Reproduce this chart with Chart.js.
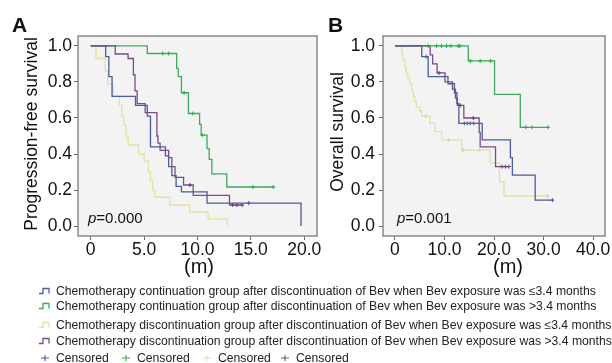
<!DOCTYPE html>
<html>
<head>
<meta charset="utf-8">
<script src="https://cdn.jsdelivr.net/npm/chart.js@4.4.1/dist/chart.umd.min.js"></script>
<style>
  body { margin: 0; background: #fff; width: 612px; height: 363px; overflow: hidden; position: relative;
         font-family: "Liberation Sans", Arial, sans-serif; }
  #chartA { position: absolute; left: 0; top: 0; }
  #chartB { position: absolute; left: 322px; top: 0; }
  .leg { position: absolute; left: 39px; font-size: 12.2px; line-height: 14px; color: #222; white-space: nowrap; }
  .leg svg { vertical-align: middle; margin-right: 5px; position: relative; top: -1px; }
  .cens { display: inline-block; position: absolute; top: 0; }
</style>
</head>
<body>
<canvas id="chartA" width="322" height="285"></canvas>
<canvas id="chartB" width="290" height="285"></canvas>

<div class="leg" style="top:284px"><svg width="12" height="8"><path d="M0,6.5H4V1.5H10V6.5" fill="none" stroke="#4d5c9c" stroke-width="1.3"/></svg><span>Chemotherapy continuation group after discontinuation of Bev when Bev exposure was ≤3.4 months</span></div>
<div class="leg" style="top:299px"><svg width="12" height="8"><path d="M0,6.5H4V1.5H10V6.5" fill="none" stroke="#3faa5c" stroke-width="1.3"/></svg><span>Chemotherapy continuation group after discontinuation of Bev when Bev exposure was &gt;3.4 months</span></div>
<div class="leg" style="top:318px"><svg width="12" height="8"><path d="M0,6.5H4V1.5H10V6.5" fill="none" stroke="#e4e0a4" stroke-width="1.3"/></svg><span>Chemotherapy discontinuation group after discontinuation of Bev when Bev exposure was ≤3.4 months</span></div>
<div class="leg" style="top:334px"><svg width="12" height="8"><path d="M0,6.5H4V1.5H10V6.5" fill="none" stroke="#7a4e88" stroke-width="1.3"/></svg><span>Chemotherapy discontinuation group after discontinuation of Bev when Bev exposure was &gt;3.4 months</span></div>
<div class="leg" style="top:351px;left:0;width:612px;height:14px">
  <span class="cens" style="left:39px"><svg width="12" height="8"><path d="M2,4H10M6,1V7" stroke="#4d5c9c" stroke-width="1.1"/></svg>Censored</span>
  <span class="cens" style="left:120px"><svg width="12" height="8"><path d="M2,4H10M6,1V7" stroke="#2db04a" stroke-width="1.1"/></svg>Censored</span>
  <span class="cens" style="left:201px"><svg width="12" height="8"><path d="M2,4H10M6,1V7" stroke="#e4e0a4" stroke-width="1.1"/></svg>Censored</span>
  <span class="cens" style="left:279px"><svg width="12" height="8"><path d="M2,4H10M6,1V7" stroke="#7a4e88" stroke-width="1.1"/></svg>Censored</span>
</div>

<script>
// axis ticks
const pfsTicksX = [0, 5, 10, 15, 20];
const pfsTickLabels = ['0', '5.0', '10.0', '15.0', '20.0'];
const osTicksX = [0, 10, 20, 30, 40];
const osTickLabels = ['0', '10.0', '20.0', '30.0', '40.0'];
const survTicks = [0, 0.2, 0.4, 0.6, 0.8, 1.0];
const survTickLabels = ['0.0', '0.2', '0.4', '0.6', '0.8', '1.0'];

// group order: cont <=3.4, cont >3.4, discont <=3.4, discont >3.4
const lineColors = ['#4d5c9c', '#3faa5c', '#e4e0a4', '#7a4e88'];
const censorColors = ['#4d5c9c', '#22b040', '#dcd890', '#6e3f80'];

// A: progression-free survival (time of step, survival after step, censored times)
const pfsBlueT = [0, 1.4, 1.7, 2.0, 4.2, 5.3, 5.6, 7.0, 7.3, 7.6, 8.0, 8.5, 10.9, 19.7];
const pfsBlueS = [1, 0.94, 0.83, 0.72, 0.67, 0.61, 0.44, 0.39, 0.33, 0.28, 0.22, 0.19, 0.128, 0];
const pfsBlueCens = [14.8];

const pfsGreenT = [0, 5.3, 8.05, 8.2, 8.5, 9.15, 10.2, 10.35, 10.9, 11.1, 11.35, 12.75, 17.1];
const pfsGreenS = [1, 0.958, 0.875, 0.83, 0.74, 0.625, 0.565, 0.505, 0.43, 0.37, 0.29, 0.217, 0.217];
const pfsGreenCens = [6.75, 7.3, 8.75, 9.56, 10.46, 15.2, 17.1];

const pfsYellowT = [0, 0.5, 1.35, 1.6, 2.1, 2.7, 2.9, 3.1, 3.3, 3.5, 4.5, 5.0, 5.4, 5.6, 5.8, 6.0, 7.4, 9.3, 11.0, 12.8];
const pfsYellowS = [1, 0.93, 0.86, 0.79, 0.72, 0.67, 0.61, 0.56, 0.5, 0.45, 0.40, 0.36, 0.30, 0.25, 0.2, 0.16, 0.117, 0.078, 0.04, 0];
const pfsYellowCens = [];

const pfsPurpleT = [0, 2.3, 3.5, 4.0, 4.15, 4.35, 5.1, 6.2, 6.3, 6.5, 7.3, 7.6, 7.9, 8.7, 9.6, 13.0, 14.2];
const pfsPurpleS = [1, 0.955, 0.93, 0.84, 0.75, 0.68, 0.63, 0.5, 0.46, 0.42, 0.38, 0.33, 0.27, 0.228, 0.17, 0.117, 0.117];
const pfsPurpleCens = [9.3, 13.3, 13.7, 14.2];

// B: overall survival
const osBlueT = [0, 5.4, 6.7, 10.7, 12.0, 12.5, 12.9, 17.6, 23.3, 23.7, 28.3, 31.8];
const osBlueS = [1, 0.94, 0.83, 0.79, 0.74, 0.68, 0.57, 0.478, 0.38, 0.283, 0.144, 0.144];
const osBlueCens = [6.3, 14.0, 14.6, 15.2, 15.9, 31.8];

const osGreenT = [0, 14.8, 20.1, 25.3, 30.9];
const osGreenS = [1, 0.917, 0.731, 0.548, 0.548];
const osGreenCens = [6.7, 8.4, 9.4, 10.4, 11.3, 12.8, 13.1, 15.2, 17.2, 19.3, 26.4, 27.7, 30.9];

const osYellowT = [0, 1.35, 1.6, 2.0, 2.3, 2.6, 3.0, 3.4, 3.7, 4.0, 4.3, 5.0, 5.4, 7.07, 8.1, 9.4, 13.5, 19.2, 21.1, 22.0, 30.8];
const osYellowS = [1, 0.96, 0.92, 0.88, 0.85, 0.82, 0.79, 0.755, 0.72, 0.69, 0.66, 0.64, 0.61, 0.57, 0.524, 0.478, 0.422, 0.35, 0.246, 0.167, 0.167];
const osYellowCens = [6.2, 10.8, 13.8, 17.0, 30.8];

const osPurpleT = [0, 7.1, 7.6, 8.5, 10.1, 11.6, 12.2, 12.6, 13.9, 17.0, 17.2, 20.3, 23.0];
const osPurpleS = [1, 0.95, 0.9, 0.85, 0.8, 0.76, 0.71, 0.67, 0.6, 0.52, 0.44, 0.33, 0.33];
const osPurpleCens = [8.9, 13.2, 15.8, 21.6, 22.3, 23.0];

const FONT = '"Liberation Sans", Arial, sans-serif';

const survAt = (times, surv, t) => {
  let s = surv[0];
  for (let i = 0; i < times.length; i++) {
    if (times[i] <= t) s = surv[i];
  }
  return s;
};

const makeSets = (groups) => {
  let cens = [];
  let lines = [];
  groups.map((g, i) => {
    cens.push({
      data: g.c.map((c) => ({ x: c, y: survAt(g.t, g.s, c) })),
      showLine: false, pointStyle: 'cross', pointRadius: 2, pointHoverRadius: 2,
      borderColor: censorColors[i], borderWidth: 1
    });
  });
  // blue and purple drawn on top
  [0, 3, 1, 2].map((i) => {
    let g = groups[i];
    lines.push({
      data: g.t.map((t, j) => ({ x: t, y: g.s[j] })),
      showLine: true, stepped: true, pointRadius: 0, pointHoverRadius: 0,
      borderColor: lineColors[i], borderWidth: 1.3, fill: false
    });
  });
  return cens.concat(lines);
};

const framePlugin = {
  id: 'frame',
  beforeDatasetsDraw(chart) {
    let a = chart.chartArea;
    let ctx = chart.ctx;
    ctx.save();
    ctx.fillStyle = '#f3f3f3';
    ctx.fillRect(a.left, a.top, a.right - a.left, a.bottom - a.top);
    ctx.strokeStyle = '#8a8a8a';
    ctx.lineWidth = 1.5;
    ctx.strokeRect(a.left, a.top, a.right - a.left, a.bottom - a.top);
    ctx.restore();
  }
};

const notesPlugin = {
  id: 'notes',
  afterDraw(chart, args, o) {
    let ctx = chart.ctx;
    ctx.save();
    ctx.fillStyle = '#111';
    ctx.textBaseline = 'alphabetic';
    ctx.textAlign = 'left';
    ctx.font = 'bold 21px ' + FONT;
    ctx.fillText(o.letter, o.letterX, 32);

    ctx.font = 'italic 15px ' + FONT;
    ctx.fillText('p', o.pX, 223);
    let w = ctx.measureText('p').width;
    ctx.font = '15px ' + FONT;
    ctx.fillText(o.pText, o.pX + w, 223);

    ctx.textAlign = 'center';
    ctx.textBaseline = 'middle';
    ctx.font = '20px ' + FONT;
    ctx.fillText('(m)', o.xTitleX, 267);

    ctx.translate(o.yTitleX, o.yTitleY);
    ctx.rotate(-Math.PI / 2);
    ctx.font = '17.5px ' + FONT;
    ctx.fillText(o.yTitle, 0, 0);
    ctx.restore();
  }
};

const buildChart = (id, groups, xTicks, xLabels, xMin, xMax, yWidth, padRight, notes) => {
  let ctx = document.getElementById(id).getContext('2d');
  return new Chart(ctx, {
    type: 'scatter',
    data: { datasets: makeSets(groups) },
    plugins: [framePlugin, notesPlugin],
    options: {
      responsive: false,
      animation: false,
      devicePixelRatio: 1,
      layout: { padding: { left: 0, top: 36, right: padRight, bottom: 0 } },
      plugins: { legend: { display: false }, tooltip: { enabled: false }, notes: notes },
      scales: {
        x: {
          type: 'linear', min: xMin, max: xMax,
          afterBuildTicks: (ax) => { ax.ticks = xTicks.map((v) => ({ value: v })); },
          afterFit: (s) => { s.height = 285 - 236; },
          ticks: {
            callback: (v) => xLabels[xTicks.indexOf(v)],
            font: { size: 17.5, family: FONT }, color: '#111', padding: 0,
            maxRotation: 0, autoSkip: false
          },
          grid: { display: true, drawOnChartArea: false, drawTicks: true, tickLength: 4, color: '#666' },
          border: { display: false }
        },
        y: {
          type: 'linear', min: -0.055, max: 1.055,
          afterBuildTicks: (ax) => { ax.ticks = survTicks.map((v) => ({ value: v })); },
          afterFit: (s) => { s.width = yWidth; },
          ticks: {
            callback: (v) => survTickLabels[survTicks.indexOf(v)],
            font: { size: 17.5, family: FONT }, color: '#111', padding: yWidth > 70 ? 2 : 4
          },
          grid: { display: true, drawOnChartArea: false, drawTicks: true, tickLength: 4, color: '#666' },
          border: { display: false }
        }
      }
    }
  });
};

const pfsGroups = [
  { t: pfsBlueT, s: pfsBlueS, c: pfsBlueCens },
  { t: pfsGreenT, s: pfsGreenS, c: pfsGreenCens },
  { t: pfsYellowT, s: pfsYellowS, c: pfsYellowCens },
  { t: pfsPurpleT, s: pfsPurpleS, c: pfsPurpleCens }
];
const osGroups = [
  { t: osBlueT, s: osBlueS, c: osBlueCens },
  { t: osGreenT, s: osGreenS, c: osGreenCens },
  { t: osYellowT, s: osYellowS, c: osYellowCens },
  { t: osPurpleT, s: osPurpleS, c: osPurpleCens }
];

buildChart('chartA', pfsGroups, pfsTicksX, pfsTickLabels, -1.19, 21.2, 78, 5, {
  letter: 'A', letterX: 12, pX: 88, pText: '=0.000', xTitleX: 199,
  yTitle: 'Progression-free survival', yTitleX: 32, yTitleY: 134
});
buildChart('chartB', osGroups, osTicksX, osTickLabels, -2.42, 42.4, 61, 7, {
  letter: 'B', letterX: 6, pX: 75, pText: '=0.001', xTitleX: 186,
  yTitle: 'Overall survival', yTitleX: 16, yTitleY: 132
});
</script>
</body>
</html>
